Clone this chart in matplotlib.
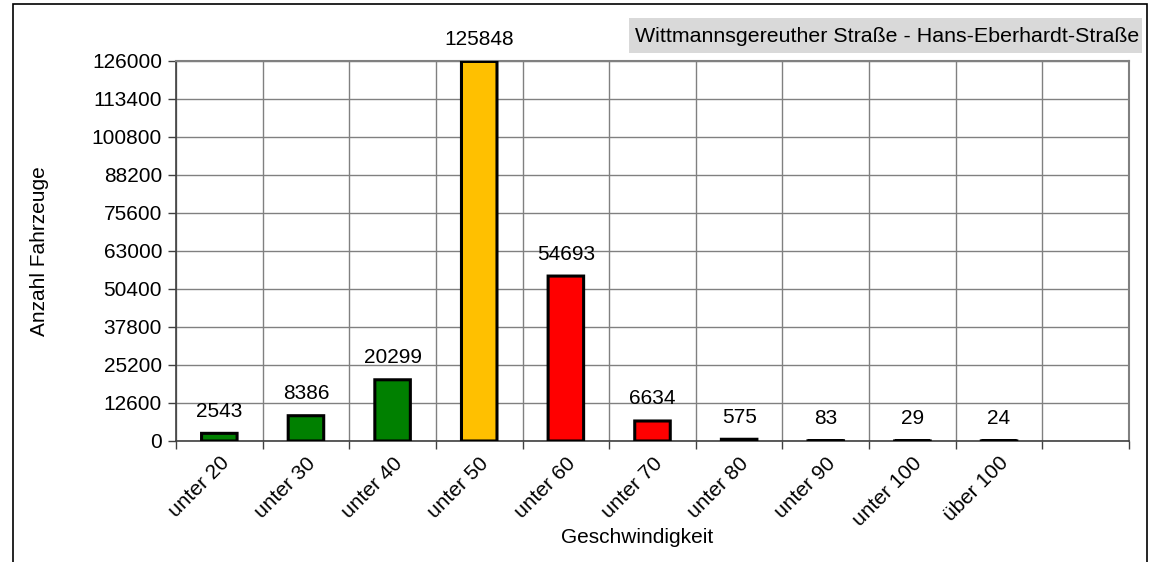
import matplotlib
matplotlib.use("Agg")
import matplotlib.pyplot as plt
from matplotlib.patches import Rectangle
import numpy as np

plt.rcParams['font.family'] = ['Liberation Sans', 'DejaVu Sans']

categories = ["unter 20", "unter 30", "unter 40", "unter 50", "unter 60",
              "unter 70", "unter 80", "unter 90", "unter 100", "über 100", ""]
values = [2543, 8386, 20299, 125848, 54693, 6634, 575, 83, 29, 24]
colors = ["#008000", "#008000", "#008000", "#FFC000", "#FF0000",
          "#FF0000", "#FF0000", "#FF0000", "#FF0000", "#FF0000"]
yticks = [0, 12600, 25200, 37800, 50400, 63000, 75600, 88200, 100800, 113400, 126000]
title = "Wittmannsgereuther Straße - Hans-Eberhardt-Straße"

FS = 15
W, H = 1149, 562
fig = plt.figure(figsize=(W / 100, H / 100), dpi=100)
ax = fig.add_axes([176 / W, 1 - 441 / H, (1129 - 176) / W, (441 - 61) / H])

n = len(categories)
x = np.arange(len(values))
bars = ax.bar(x, values, width=0.41, color=colors, edgecolor="black", linewidth=2.2, zorder=3)
for b in bars:
    b.set_snap(False)
    b.set_joinstyle("miter")

ax.set_xlim(-0.5, n - 0.5)
ax.set_ylim(0, 126000)
ax.set_yticks(yticks)
ax.set_yticklabels([str(v) for v in yticks], fontsize=FS)

ax.set_xticks(np.arange(n))
ax.set_xticklabels(categories, rotation=45, ha="right", rotation_mode="anchor", fontsize=FS)
ax.tick_params(axis="x", which="major", length=0, pad=9)
ax.set_xticks(np.arange(n + 1) - 0.5, minor=True)
ax.tick_params(axis="x", which="minor", length=6, width=1, color="#404040")
ax.tick_params(axis="y", length=6, width=1, color="#404040", pad=4)

ax.grid(axis="y", color="#808080", linewidth=1, zorder=0)
ax.grid(axis="x", which="minor", color="#808080", linewidth=1, zorder=0)

for s in ["left", "bottom"]:
    ax.spines[s].set_color("#404040")
    ax.spines[s].set_linewidth(1.2)
    ax.spines[s].set_zorder(2.5)
for s in ["top", "right"]:
    ax.spines[s].set_color("#808080")
    ax.spines[s].set_linewidth(1.5)

for xi, v in zip(x, values):
    ax.annotate(str(v), (xi, v), xytext=(0, 9), textcoords="offset points",
                ha="center", va="bottom", fontsize=FS, annotation_clip=False, zorder=5)

ax.set_ylabel("Anzahl Fahrzeuge", fontsize=FS)
ax.set_xlabel("Geschwindigkeit", fontsize=FS)
ax.xaxis.set_label_coords((637 - 176) / (1129 - 176), -(528 - 441) / (441 - 61))
ax.yaxis.set_label_coords(-(176 - 49) / (1129 - 176), 0.5)

fig.patches.append(Rectangle((629 / W, 1 - 53 / H), (1142 - 629) / W, 35 / H,
                             transform=fig.transFigure, facecolor="#D9D9D9",
                             edgecolor="none", zorder=0))
fig.text(1139 / W, 1 - 36 / H, title, ha="right", va="center", fontsize=15.4)

fig.patches.append(Rectangle((13 / W, -0.05), (1147 - 13) / W, 1.05 - 4 / H,
                             transform=fig.transFigure, facecolor="none",
                             edgecolor="black", linewidth=1.2, zorder=0))

fig.savefig("out.png", dpi=100)
